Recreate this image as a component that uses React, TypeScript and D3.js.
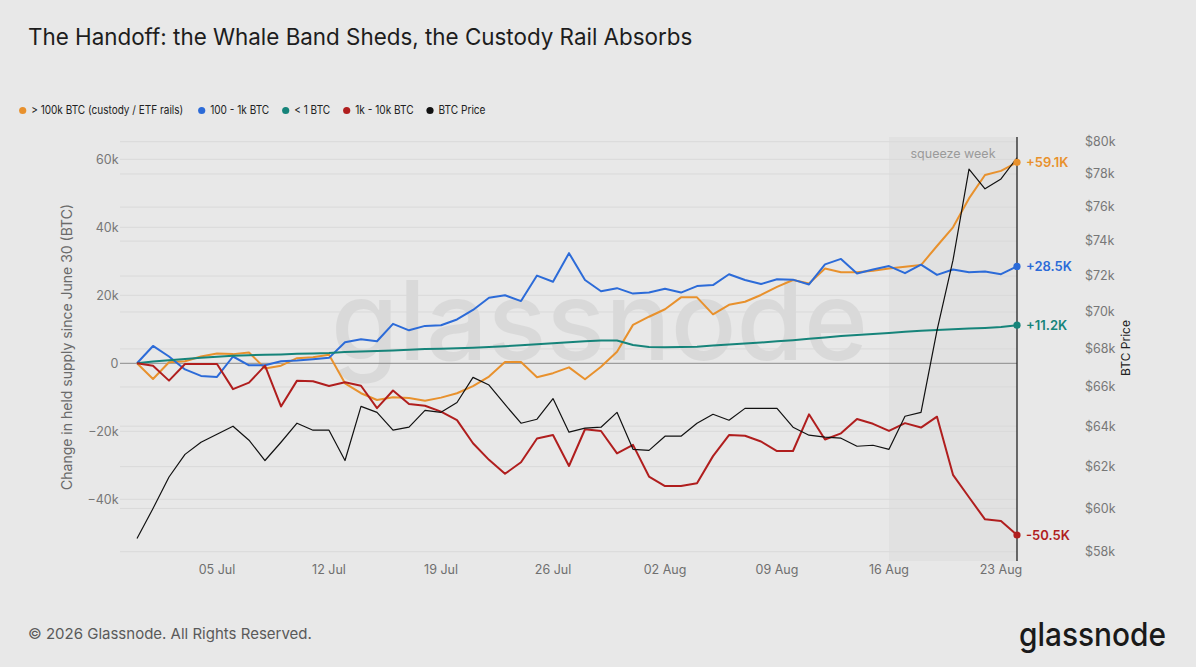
import React from "react";
import * as d3 from "d3";

// ---- data (thousands of BTC change since June 30; BTC price in $k) ----
const startDate = new Date(Date.UTC(2026, 5, 30));
const custody100k = [
  0, -4.6, 0.3, 0.6, 2.0, 2.9, 2.7, 3.2, -1.5, -0.7, 1.5, 1.8, 2.5, -5.9, -8.8, -10.8,
  -10.0, -10.2, -11.0, -10.1, -8.8, -6.7, -3.9, 0.4, 0.4, -4.1, -2.9, -1.2, -4.7, -1.0,
  3.4, 11.3, 13.7, 15.9, 19.4, 19.4, 14.4, 17.2, 18.1, 20.1, 22.5, 24.5, 23.5, 27.9,
  26.8, 26.8, 27.2, 27.9, 28.4, 28.9, 34.5, 40.0, 48.5, 55.4, 56.6, 59.1,
];
const band100to1k = [
  0, 5.1, 2.0, -1.8, -3.7, -4.0, 2.0, -0.6, -0.6, 0.6, 0.8, 1.2, 1.6, 6.2, 7.1, 6.5,
  11.6, 9.7, 11.0, 11.2, 12.9, 15.7, 19.3, 20.0, 18.3, 25.8, 24.0, 32.4, 24.5, 21.2,
  22.1, 20.5, 20.8, 21.9, 20.8, 22.7, 23.0, 26.2, 24.5, 23.3, 24.7, 24.6, 23.2, 29.1,
  30.7, 26.4, 27.6, 28.6, 26.5, 29.0, 26.0, 27.6, 26.8, 27.0, 26.2, 28.5,
];
const bandUnder1 = [
  0, 0.5, 0.9, 1.3, 1.6, 1.9, 2.2, 2.4, 2.5, 2.6, 2.8, 2.9, 3.0, 3.3, 3.5, 3.6,
  3.8, 4.0, 4.2, 4.3, 4.4, 4.6, 4.8, 5.0, 5.3, 5.6, 5.9, 6.2, 6.5, 6.7,
  6.7, 5.4, 4.8, 4.7, 4.8, 4.9, 5.2, 5.5, 5.8, 6.1, 6.5, 6.8, 7.2, 7.6,
  8.0, 8.3, 8.6, 8.9, 9.3, 9.6, 9.8, 10.0, 10.2, 10.4, 10.7, 11.2,
];
const band1kto10k = [
  0, -0.7, -5.1, -0.2, -0.2, -0.2, -7.6, -5.7, -0.7, -12.7, -5.1, -5.3, -6.7, -5.6, -6.6, -13.2,
  -8.0, -12.0, -12.5, -14.2, -16.7, -23.5, -28.4, -32.5, -29.1, -22.1, -21.1, -30.2, -19.4, -19.9,
  -26.5, -24.0, -33.3, -36.1, -36.1, -35.3, -27.3, -21.1, -21.3, -23.0, -25.8, -25.8, -15.0, -22.4,
  -20.6, -16.4, -17.8, -19.9, -17.6, -18.9, -15.7, -32.8, -39.4, -45.9, -46.4, -50.5,
];
const btcPrice = [
  58.6, 60.0, 61.5, 62.6, 63.2, 63.6, 64.0, 63.3, 62.3, 63.2, 64.15, 63.8, 63.8, 62.3, 65.0, 64.7,
  63.8, 63.95, 64.8, 64.7, 65.2, 66.5, 66.1, 65.1, 64.15, 64.35, 65.4, 63.7, 63.9, 63.95,
  64.7, 62.85, 62.8, 63.5, 63.5, 64.15, 64.6, 64.3, 64.9, 64.9, 64.9, 63.95, 63.55, 63.45,
  63.4, 63.0, 63.05, 62.85, 64.5, 64.7, 69.0, 72.9, 78.3, 77.1, 77.7, 79.0,
];
const leftTicks = [-40000, -20000, 0, 20000, 40000, 60000];
const rightTicks = [58000, 60000, 62000, 64000, 66000, 68000, 70000, 72000, 74000, 76000, 78000, 80000];
const squeezeStart = new Date(Date.UTC(2026, 7, 16));

const seriesDefs = [
  { key: "custody", name: "> 100k BTC (custody / ETF rails)", color: "#e8912d", values: custody100k, label: "+59.1K" },
  { key: "b100", name: "100 - 1k BTC", color: "#2c6bd8", values: band100to1k, label: "+28.5K" },
  { key: "lt1", name: "< 1 BTC", color: "#16847a", values: bandUnder1, label: "+11.2K" },
  { key: "b1k", name: "1k - 10k BTC", color: "#b01e1e", values: band1kto10k, label: "-50.5K" },
];

const FONT = "Inter, 'Noto Sans', sans-serif";

export default function App() {
  const W = 1196, H = 667;
  const dates = btcPrice.map((_, i) => d3.utcDay.offset(startDate, i));
  const endDate = dates[dates.length - 1];
  const x = d3.scaleUtc().domain([startDate, endDate]).range([137, 1017]);
  const yL = d3.scaleLinear().domain([-40000, 60000]).range([499.3, 159.3]);
  const yR = d3.scaleLog().domain([58000, 80000]).range([551.7, 141.7]);
  const plotTop = 137, plotBottom = 561, gridLeft = 120, plotRight = 1017;

  const lineL = d3.line<number>().x((_, i) => x(dates[i])).y((v) => yL(v * 1000));
  const lineR = d3.line<number>().x((_, i) => x(dates[i])).y((v) => yR(v * 1000));

  const xTicks = d3.utcSunday.range(d3.utcDay.offset(startDate, 1), d3.utcDay.offset(endDate, 1));
  const fmtDate = d3.utcFormat("%d %b");
  const fmtL = (v: number) => (v === 0 ? "0" : `${v / 1000}k`).replace("-", "\u2212");
  const fmtR = (v: number) => `$${v / 1000}k`;

  const legendX = [22.7, 201.7, 285.7, 346.7, 430];
  const legendW = [152, 59, 36, 58.5, 47];
  const legendItems = [...seriesDefs.map((s) => ({ name: s.name, color: s.color })), { name: "BTC Price", color: "#111" }];

  return (
    <svg width={W} height={H} style={{ position: "absolute", left: 0, top: 0, background: "#e8e8e8" }} fontFamily={FONT}>
      <rect x={0} y={0} width={W} height={H} fill="#e8e8e8" />
      <text x={28} y={45} fontSize={22.4} fill="#1d1d1d">The Handoff: the Whale Band Sheds, the Custody Rail Absorbs</text>

      {legendItems.map((it, i) => (
        <g key={it.name}>
          <circle cx={legendX[i]} cy={110.5} r={3.6} fill={it.color} />
          <text x={legendX[i] + 8.5} y={110.5} dy="0.35em" fontSize={11.2} fill="#222" textLength={legendW[i]} lengthAdjust="spacingAndGlyphs">{it.name}</text>
        </g>
      ))}

      {/* squeeze week shading */}
      <rect x={x(squeezeStart)} y={plotTop} width={plotRight - x(squeezeStart)} height={plotBottom - plotTop} fill="#dcdcdc" opacity={0.6} />

      {/* watermark */}
      <text x={331} y={360} fontSize={110} fontWeight={500} fill="#000" opacity={0.06} textLength={537} lengthAdjust="spacingAndGlyphs">glassnode</text>

      {/* gridlines */}
      {rightTicks.map((t) => (
        <line key={"r" + t} x1={gridLeft} x2={plotRight} y1={yR(t)} y2={yR(t)} stroke="#d9d9d9" strokeWidth={1} />
      ))}
      {leftTicks.map((t) => (
        <line key={"l" + t} x1={gridLeft} x2={plotRight} y1={yL(t)} y2={yL(t)} stroke={t === 0 ? "#8a8a8a" : "#d9d9d9"} strokeWidth={1} />
      ))}

      {/* left axis */}
      {leftTicks.map((t) => (
        <text key={"lt" + t} x={118.5} y={yL(t)} dy="0.35em" textAnchor="end" fontSize={12.5} fill="#777">{fmtL(t)}</text>
      ))}
      <text transform={`translate(67,347) rotate(-90)`} textAnchor="middle" dy="0.35em" fontSize={14} fill="#6a6a6a">Change in held supply since June 30 (BTC)</text>

      {/* right axis */}
      {rightTicks.map((t) => (
        <text key={"rt" + t} x={1085} y={yR(t)} dy="0.35em" fontSize={12.5} fill="#777">{fmtR(t)}</text>
      ))}
      <text transform={`translate(1126,348) rotate(-90)`} textAnchor="middle" dy="0.35em" fontSize={12} fill="#222">BTC Price</text>

      {/* x axis labels */}
      {xTicks.map((d) => (
        <text key={d.toISOString()} x={x(d)} y={570} dy="0.35em" textAnchor="middle" fontSize={12.5} fill="#6f6f6f">{fmtDate(d)}</text>
      ))}

      {/* series */}
      {seriesDefs.map((s) => (
        <path key={s.key} d={lineL(s.values) || ""} fill="none" stroke={s.color} strokeWidth={2} strokeLinejoin="round" />
      ))}
      <path d={lineR(btcPrice) || ""} fill="none" stroke="#111" strokeWidth={1.2} strokeLinejoin="round" />

      {/* end marker line */}
      <line x1={plotRight} x2={plotRight} y1={plotTop} y2={plotBottom} stroke="#222" strokeWidth={1.3} />
      <text x={953} y={153.5} dy="0.35em" textAnchor="middle" fontSize={12.5} fill="#9a9a9a">squeeze week</text>

      {seriesDefs.map((s) => {
        const v = s.values[s.values.length - 1] * 1000;
        return (
          <g key={"end" + s.key}>
            <circle cx={x(endDate)} cy={yL(v)} r={3.6} fill={s.color} />
            <text x={1026} y={yL(v)} dy="0.35em" fontSize={13} fontWeight={600} fill={s.color}>{s.label}</text>
          </g>
        );
      })}

      {/* footer */}
      <text x={28} y={634} dy="0.35em" fontSize={15} fill="#5a5a5a">© 2026 Glassnode. All Rights Reserved.</text>
      <text x={1019} y={646} fontSize={33} fontWeight={500} fill="#1a1a1a" textLength={147} lengthAdjust="spacingAndGlyphs">glassnode</text>
    </svg>
  );
}
